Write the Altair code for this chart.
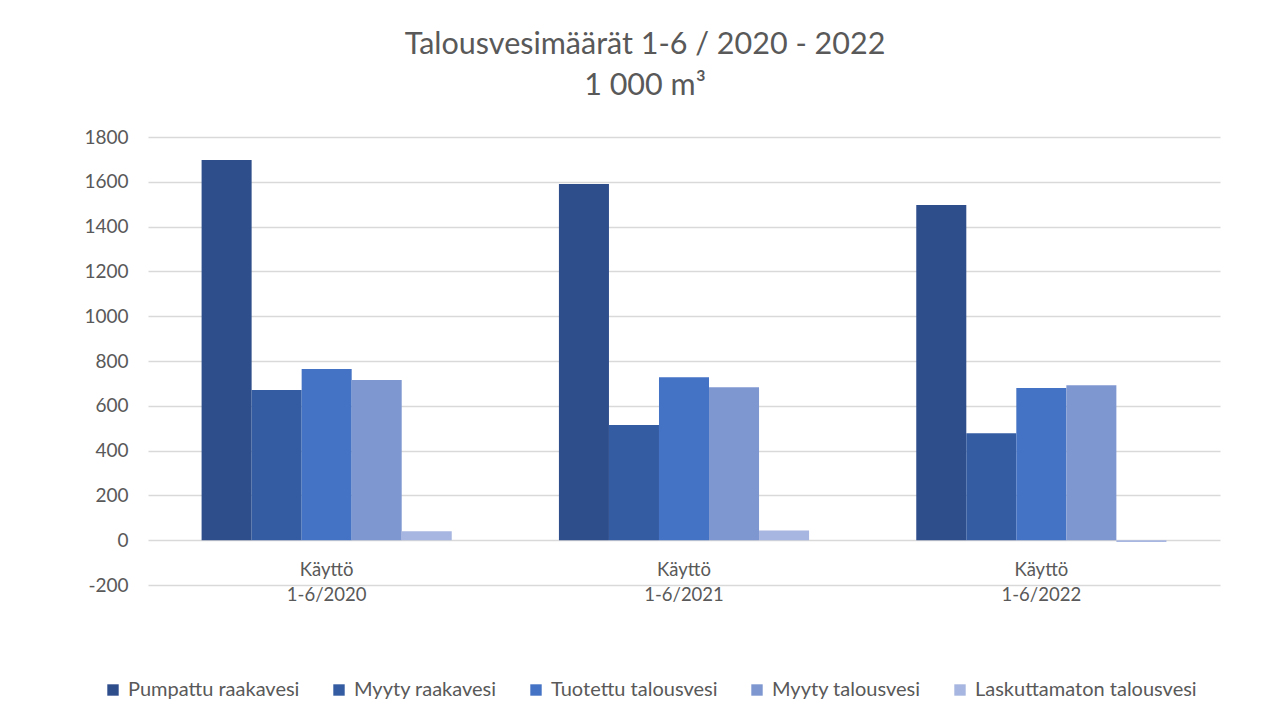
import altair as alt
import pandas as pd

categories = ["Käyttö\n1-6/2020", "Käyttö\n1-6/2021", "Käyttö\n1-6/2022"]
series = ["Pumpattu raakavesi", "Myyty raakavesi", "Tuotettu talousvesi",
          "Myyty talousvesi", "Laskuttamaton talousvesi"]
pumpattu_raakavesi = [1697, 1590, 1496]
myyty_raakavesi = [670, 514, 478]
tuotettu_talousvesi = [764, 728, 679]
myyty_talousvesi = [715, 683, 692]
laskuttamaton_talousvesi = [40, 43, -8]
colors = ["#2E4D8B", "#345CA3", "#4472C4", "#7F97D0", "#A7B6E0"]

values = [pumpattu_raakavesi, myyty_raakavesi, tuotettu_talousvesi,
          myyty_talousvesi, laskuttamaton_talousvesi]
rows = []
for s, vals in zip(series, values):
    for c, v in zip(categories, vals):
        rows.append({"cat": c, "series": s, "value": v})
df = pd.DataFrame(rows)
cats_df = pd.DataFrame({"cat": categories})

FONT = "Lato"
GREY = "#595959"

xscale = alt.Scale(paddingInner=0.3, paddingOuter=0.15)

bars = alt.Chart(df).mark_bar().encode(
    x=alt.X("cat:N", sort=categories, title=None, scale=xscale, axis=None),
    xOffset=alt.XOffset("series:N", sort=series, scale=alt.Scale(paddingInner=0, paddingOuter=0)),
    y=alt.Y("value:Q", title=None,
            scale=alt.Scale(domain=[-200, 1800], nice=False),
            axis=alt.Axis(values=list(range(-200, 1801, 200)), domain=False, ticks=False,
                          labelExpr="'' + datum.value",
                          labelPadding=20, labelFontSize=19, labelColor=GREY, labelFont=FONT,
                          gridColor="#D9D9D9", gridWidth=1.3)),
    color=alt.Color("series:N", sort=series,
                    scale=alt.Scale(domain=series, range=colors),
                    legend=alt.Legend(title=None, orient="none", direction="horizontal",
                                      legendX=-45, legendY=543, symbolType="square",
                                      symbolSize=130, symbolStrokeWidth=0,
                                      labelFontSize=20, labelColor=GREY, labelFont=FONT,
                                      labelLimit=400, columnPadding=29, labelOffset=5)),
)

labels = alt.Chart(cats_df).mark_text(
    baseline="top", fontSize=18.5, color=GREY, font=FONT, lineBreak="\n",
    lineHeight=25, dy=21
).encode(
    x=alt.X("cat:N", sort=categories, scale=xscale, axis=None),
    y=alt.datum(0),
    text="cat:N",
)

chart = alt.layer(bars, labels).properties(
    width=1072, height=448,
    background="white",
    autosize=alt.AutoSizeParams(type="none"),
    padding={"left": 140, "top": 129, "right": 50, "bottom": 120},
    title=alt.TitleParams(
        text=["Talousvesimäärät 1-6 / 2020 - 2022", "1 000 m³"],
        font=FONT, fontSize=30.5, fontWeight="normal", color=GREY,
        anchor="middle", dx=-39, offset=27, lineHeight=41,
    ),
).configure_view(strokeWidth=0, stroke="transparent")

chart.save("out.html", embed_options={"renderer": "svg", "actions": False})
